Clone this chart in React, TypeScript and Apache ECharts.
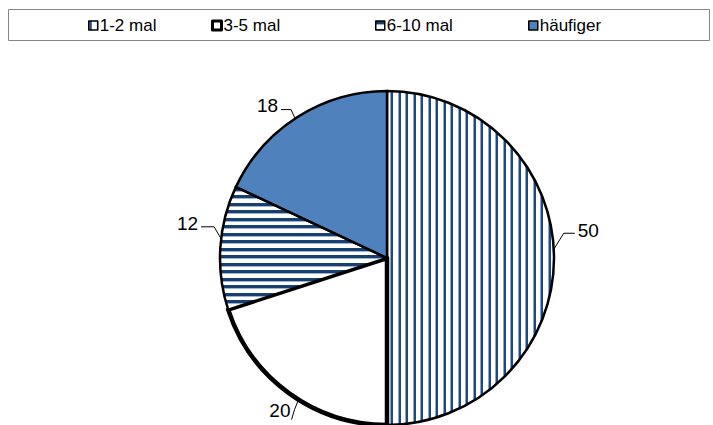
import React, { useEffect, useRef } from "react";
import * as echarts from "echarts";

const categories = ["1-2 mal", "3-5 mal", "6-10 mal", "häufiger"];
const values = [50, 20, 12, 18];

// layout constants
const CENTER = [387, 258];
const RADIUS = 167;
// label placement: anchor angle shift (deg) from slice mid-angle, and offsets
const labelGeom = [
  { shift: -3, bend: [10, -16], end: [21, -16], align: "left", tdx: 3, tdy: -3 },
  { shift: -4, bend: [-4, 10], end: [-7, 20], align: "right", tdx: -1, tdy: -9 },
  { shift: 3, bend: [-7, -12], end: [-20, -12], align: "right", tdx: -3, tdy: -3 },
  { shift: -1, bend: [-4, -9], end: [-14, -9], align: "right", tdx: -3, tdy: -4 },
];
const legendLefts = [88, 211, 375, 528];

function stripes(vertical: boolean) {
  const c = document.createElement("canvas");
  const L = 15;
  const T = 2;
  c.width = vertical ? L : T;
  c.height = vertical ? T : L;
  const ctx = c.getContext("2d")!;
  ctx.fillStyle = "#ffffff";
  ctx.fillRect(0, 0, c.width, c.height);
  const draw = (pos: number, w: number, col: string) => {
    ctx.fillStyle = col;
    if (vertical) ctx.fillRect(pos, 0, w, T);
    else ctx.fillRect(0, pos, T, w);
  };
  for (const s of [0, 8]) {
    if (vertical) {
      draw(s, 1, "#8aa6cf");
      draw(s + 1, 2, "#1f497d");
    } else {
      draw(s, 3, "#17406f");
      draw(s + 3, 1, "#9db3d4");
    }
  }
  return {
    image: c,
    repeat: "repeat",
    imageWidth: c.width,
    imageHeight: c.height,
  } as any;
}

export default function App() {
  const ref = useRef<HTMLDivElement>(null);
  useEffect(() => {
    const chart = echarts.init(ref.current!, null, { renderer: "svg" });
    const fills = [stripes(true), "#ffffff", stripes(false), "#4f81bd"];
    const borders = [2.5, 4.5, 2.5, 2.5];
    const font = "'Liberation Sans', Arial, sans-serif";
    const total = values.reduce((s, v) => s + v, 0);
    const midAngles: number[] = [];
    let acc = 0;
    values.forEach((v) => {
      midAngles.push(((acc + v / 2) / total) * 360);
      acc += v;
    });
    chart.setOption({
      animation: false,
      backgroundColor: "#ffffff",
      graphic: [
        {
          type: "rect",
          shape: { x: 8.5, y: 9.5, width: 701, height: 31 },
          style: { fill: "none", stroke: "#868686", lineWidth: 1 },
          silent: true,
        },
      ],
      legend: categories.map((c, i) => ({
        data: [{ name: c, icon: "rect" }],
        left: legendLefts[i],
        top: 17,
        padding: 0,
        itemWidth: 9,
        itemHeight: 9,
        selectedMode: false,
        itemStyle: { borderWidth: i === 1 ? 3 : 1.5, borderColor: "#000" },
        textStyle: { fontFamily: font, fontSize: 17, color: "#000", padding: [0, 0, 0, -3] },
      })),
      series: [
        {
          type: "pie",
          center: CENTER,
          radius: RADIUS,
          startAngle: 90,
          clockwise: true,
          selectedMode: false,
          emphasis: { disabled: true },
          data: categories.map((c, i) => ({
            name: c,
            value: values[i],
            itemStyle: {
              color: fills[i],
              borderColor: "#000",
              borderWidth: borders[i],
            },
          })),
          label: {
            show: true,
            position: "outside",
            formatter: "{c}",
            fontFamily: font,
            fontSize: 19,
            color: "#000",
          },
          labelLine: {
            show: true,
            length: 10,
            length2: 10,
            lineStyle: { color: "#000", width: 1 },
          },
          labelLayout: (p: any) => {
            const g = labelGeom[p.dataIndex];
            const ang = ((midAngles[p.dataIndex] + g.shift) * Math.PI) / 180;
            const a = [
              CENTER[0] + RADIUS * Math.sin(ang),
              CENTER[1] - RADIUS * Math.cos(ang),
            ];
            const bend = [a[0] + g.bend[0], a[1] + g.bend[1]];
            const end = [a[0] + g.end[0], a[1] + g.end[1]];
            return {
              x: end[0] + g.tdx,
              y: end[1] + g.tdy,
              align: g.align,
              verticalAlign: "middle",
              labelLinePoints: [a, bend, end],
            };
          },
        },
      ],
    });
    return () => chart.dispose();
  }, []);
  return (
    <div
      ref={ref}
      style={{ position: "absolute", left: 0, top: 0, width: 713, height: 425 }}
    />
  );
}
